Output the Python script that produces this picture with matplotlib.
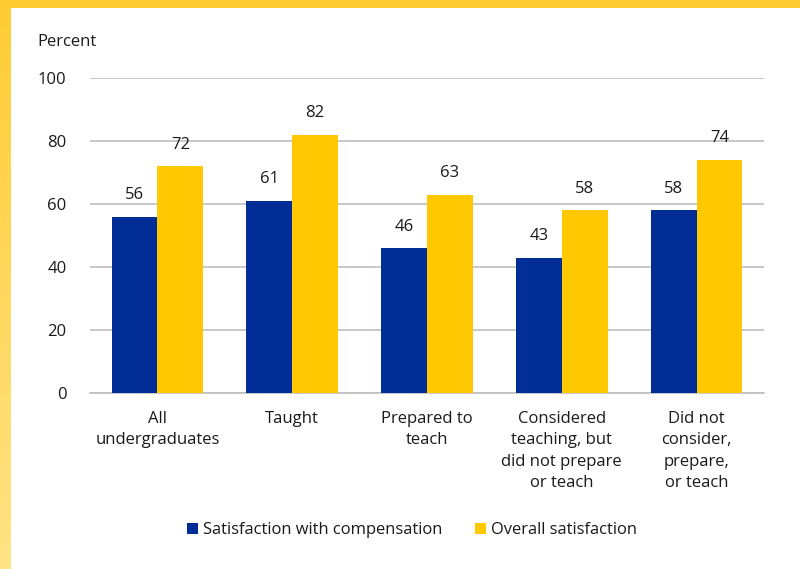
import matplotlib
matplotlib.use("Agg")
import matplotlib.pyplot as plt
import numpy as np
from matplotlib.patches import Rectangle
from matplotlib.colors import LinearSegmentedColormap

categories = ["All\nundergraduates", "Taught", "Prepared to\nteach",
              "Considered\nteaching, but\ndid not prepare\nor teach",
              "Did not\nconsider,\nprepare,\nor teach"]
compensation = [56, 61, 46, 43, 58]
overall = [72, 82, 63, 58, 74]
series_names = ["Satisfaction with compensation", "Overall satisfaction"]
yticks = [0, 20, 40, 60, 80, 100]

plt.rcParams['font.family'] = ['Open Sans', 'DejaVu Sans']
W, H = 800, 569
fig = plt.figure(figsize=(W/100, H/100), dpi=100)
fig.patch.set_facecolor("white")

# Border: top band and left gradient band
bax = fig.add_axes([0, 0, 11/W, 1])
grad = np.linspace(0, 1, 256).reshape(-1, 1)
cmap = LinearSegmentedColormap.from_list("b", ["#FFCC33", "#FFE385"])
bax.imshow(grad, aspect="auto", cmap=cmap, extent=[0, 1, 0, 1], origin="upper")
bax.set_axis_off()
fig.patches.append(Rectangle((0, 1 - 8/H), 1, 8/H, transform=fig.transFigure,
                             facecolor="#FFCC33", edgecolor="none", zorder=5))

ax = fig.add_axes([90/W, 1 - 393/H, (764-90)/W, (393-78)/H])
x = np.arange(len(categories))
bw = 0.34
blue = "#002D96"
yellow = "#FFC800"
fs = 12
b1 = ax.bar(x - bw/2, compensation, bw, color=blue, zorder=3, label=series_names[0])
b2 = ax.bar(x + bw/2, overall, bw, color=yellow, zorder=3, label=series_names[1])
for bars, vals in ((b1, compensation), (b2, overall)):
    for r, v in zip(bars, vals):
        ax.text(r.get_x() + r.get_width()/2, v + 4.3, f"{v}", ha="center", va="bottom",
                fontsize=fs, color="#1a1a1a")

ax.set_xlim(-0.5, len(categories) - 0.5)
ax.set_ylim(0, 100)
ax.set_yticks(yticks)
ax.set_yticklabels([str(t) for t in yticks], fontsize=fs, color="#1a1a1a")
ax.set_xticks(x)
ax.set_xticklabels(categories, fontsize=fs, color="#1a1a1a", linespacing=1.45, va="top")
ax.tick_params(axis="y", length=0, pad=17)
ax.tick_params(axis="x", length=0, pad=13)
ax.grid(axis="y", color="#BFBFBF", linewidth=1.2, zorder=0)
for s in ["top", "right", "left"]:
    ax.spines[s].set_visible(False)
ax.spines["bottom"].set_color("#BFBFBF")
ax.spines["bottom"].set_linewidth(1.2)

fig.text(37/W, 1 - 42/H, "Percent", fontsize=fs, color="#1a1a1a", va="center", ha="left")

leg = fig.legend(handles=[b1, b2], labels=series_names, loc="center",
                 bbox_to_anchor=(412/W, 1 - 530/H), ncol=2, frameon=False,
                 fontsize=11.9, handlelength=0.65, handleheight=0.65,
                 handletextpad=0.3, columnspacing=2.0)
for t in leg.get_texts():
    t.set_color("#1a1a1a")

fig.savefig("out.png", dpi=100, facecolor="white")
